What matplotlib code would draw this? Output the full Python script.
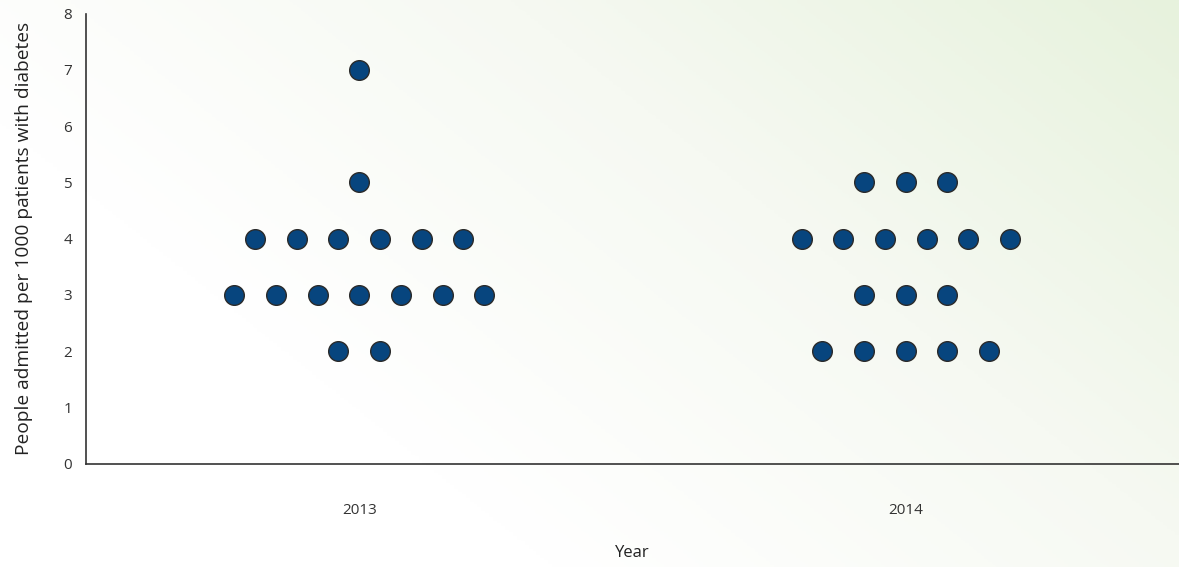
import numpy as np
import matplotlib.pyplot as plt
from matplotlib.colors import LinearSegmentedColormap

plt.rcParams['font.family'] = ['Open Sans', 'DejaVu Sans']

years = ['2013', '2014']
# admissions per 1000 patients, one entry per practice
values_2013 = [7, 5, 4, 4, 4, 4, 4, 4, 3, 3, 3, 3, 3, 3, 3, 2, 2]
values_2014 = [5, 5, 5, 4, 4, 4, 4, 4, 4, 3, 3, 3, 2, 2, 2, 2, 2]
series = [values_2013, values_2014]

fig = plt.figure(figsize=(11.79, 5.67), dpi=100)

# soft green gradient background, white at lower left
bg = fig.add_axes([0, 0, 1, 1], zorder=-10)
gx, gy = np.meshgrid(np.linspace(0, 1, 300), np.linspace(0, 1, 300))
t = np.clip((0.75 * gx + 0.45 * gy - 0.35) / 0.85, 0, 1)
cmap = LinearSegmentedColormap.from_list('bg', ['#ffffff', '#f6f9f2', '#e7f2dd'])
bg.imshow(t, cmap=cmap, origin='lower', extent=[0, 1, 0, 1], aspect='auto')
bg.axis('off')

ax = fig.add_axes([0.073, 0.182, 0.927, 0.794])
ax.patch.set_alpha(0)

step = 0.0762
for i, vals in enumerate(series):
    vals = np.array(vals)
    for level in np.unique(vals):
        n = np.sum(vals == level)
        xs = i + (np.arange(n) - (n - 1) / 2) * step
        ax.scatter(xs, [level] * n, s=200, color='#07457e',
                   edgecolor='#2a2a2a', linewidth=1.0, zorder=3)

ax.set_xlim(-0.5, 1.5)
ax.set_ylim(0, 8)
ax.set_xticks([0, 1])
ax.set_xticklabels(years)
ax.set_yticks(range(9))
ax.tick_params(length=0, labelsize=11, labelcolor='#333333')
ax.tick_params(axis='x', pad=28)
ax.tick_params(axis='y', pad=10)
for s in ['top', 'right']:
    ax.spines[s].set_visible(False)
for s in ['left', 'bottom']:
    ax.spines[s].set_color('#333333')
    ax.spines[s].set_linewidth(1.2)

ax.set_xlabel('Year', fontsize=12, color='#222222', labelpad=20)
ax.set_ylabel('People admitted per 1000 patients with diabetes', fontsize=13.8,
              color='#222222', labelpad=22)

plt.savefig('out.png', dpi=100)
